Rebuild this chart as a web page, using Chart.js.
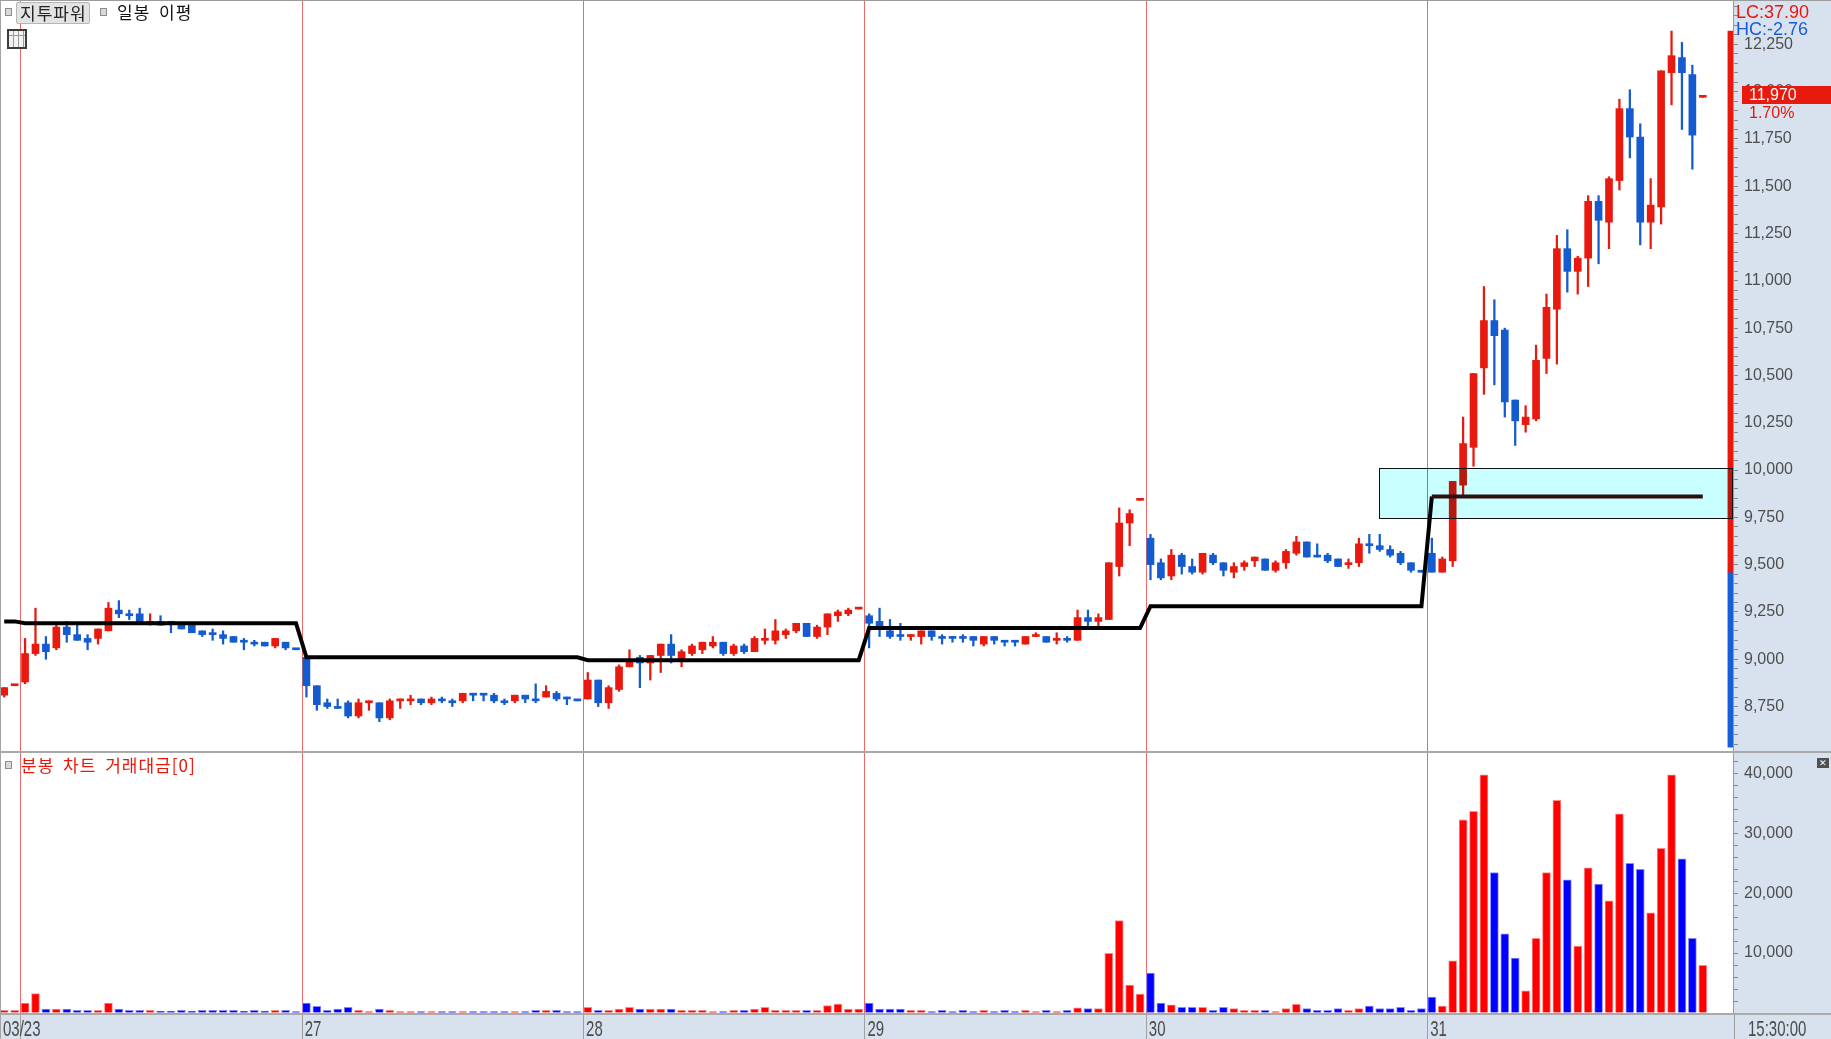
<!DOCTYPE html>
<html>
<head>
<meta charset="utf-8">
<script src="https://cdn.jsdelivr.net/npm/chart.js@4.4.1/dist/chart.umd.min.js"></script>
<style>
  body { margin: 0; width: 1831px; height: 1039px; overflow: hidden; position: relative; background: #fff; font-family: 'Liberation Sans', Arial, sans-serif; }
  canvas { position: absolute; left: 0; }
  .abs { position: absolute; white-space: nowrap; }
  .kr { font-family: 'Noto Sans CJK KR', sans-serif; font-size: 17px; letter-spacing: 1px; word-spacing: 4px; }
  .sq { position: absolute; width: 5px; height: 6px; border: 1px solid #8c8c8c; background: #d9d9d9; }
</style>
</head>
<body>
<canvas id="priceChart" width="1831" height="751" style="top:0"></canvas>
<canvas id="volChart" width="1831" height="286" style="top:753px"></canvas>

<div class="abs" style="left:0;top:0;width:1831px;height:1px;background:#9c9c9c"></div>
<div class="abs" style="left:0;top:0;width:1px;height:1039px;background:#a4a4a4"></div>
<div class="abs" style="left:0;top:751px;width:1831px;height:2px;background:#a9a9a9"></div>

<!-- 범례 -->
<div class="sq" style="left:5px;top:8px"></div>
<div class="abs kr" style="left:16px;top:2px;height:20px;line-height:20px;padding:0 2px 0 3px;background:#e3e3e3;border:1px solid #b6b6b6;border-radius:2px;color:#222">지투파워</div>
<div class="sq" style="left:100px;top:8px"></div>
<div class="abs kr" style="left:117px;top:1px;line-height:22px;color:#111">일봉 이평</div>
<div class="abs" style="left:7px;top:29px;width:16px;height:16px;border:2px solid #3c3c3c;background:#f2f2f2;
  background-image:linear-gradient(#9a9a9a,#9a9a9a),repeating-linear-gradient(90deg,transparent 0 4px,#9a9a9a 4px 5px);
  background-size:100% 1px,100% 100%;background-position:0 4px,0 0;background-repeat:no-repeat"></div>

<div class="sq" style="left:5px;top:761px"></div>
<div class="abs kr" style="left:21px;top:754px;line-height:22px;color:#e8170c">분봉 차트 거래대금[0]</div>
<div class="abs" style="left:1817px;top:758px;width:12px;height:10px;background:#505050;color:#fff;font-size:9px;line-height:10px;text-align:center">✕</div>

<!-- 오른쪽 축 정보 -->
<div class="abs" style="left:1736px;top:3px;font-size:18px;line-height:18px;color:#e8170c">LC:37.90</div>
<div class="abs" style="left:1736px;top:20px;font-size:18px;line-height:18px;color:#1a5bd6">HC:-2.76</div>
<div class="abs" style="left:1742px;top:86px;width:89px;height:18px;background:#e8190e"></div>
<div class="abs" style="left:1749px;top:85px;font-size:16px;line-height:19px;color:#fff">11,970</div>
<div class="abs" style="left:1749px;top:104px;font-size:16px;line-height:17px;color:#e8170c">1.70%</div>

<script>
// 15분봉, 직전일 2개 + 6일 x 27개
const dayLabels = ['03/23', '27', '28', '29', '30', '31'];
const dayStart = [2, 29, 56, 83, 110, 137];
const dayAvg = [9200, 9190, 9010, 8995, 9165, 9280, 9860]; // 일봉 이평 (직전일 포함)

const open = [
  8810, 8860,
  8880, 9030, 9080, 9060, 9170, 9130, 9110, 9110, 9150, 9260, 9240, 9240, 9190, 9200, 9200, 9190, 9180, 9150, 9140, 9130, 9120, 9100, 9090, 9090, 9070, 9090, 9050,
  9010, 8860, 8770, 8750, 8770, 8700, 8770, 8770, 8690, 8780, 8780, 8790, 8770, 8790, 8780, 8780, 8820, 8820, 8810, 8780, 8780, 8810, 8790, 8800, 8820, 8800, 8780,
  8790, 8890, 8770, 8840, 8960, 9010, 8980, 9020, 9080, 8990, 9030, 9050, 9070, 9090, 9030, 9070, 9040, 9100, 9100, 9130, 9150, 9190, 9120, 9170, 9230, 9240, 9265,
  9230, 9200, 9150, 9130, 9120, 9120, 9150, 9120, 9120, 9120, 9120, 9080, 9120, 9100, 9100, 9080, 9120, 9120, 9100, 9110, 9100, 9220, 9200, 9210, 9490, 9720, 9840,
  9640, 9510, 9440, 9550, 9490, 9460, 9550, 9510, 9460, 9490, 9520, 9530, 9470, 9510, 9560, 9620, 9550, 9550, 9530, 9500, 9510, 9610, 9600, 9580, 9560, 9510, 9460,
  9560, 9460, 9520, 9920, 10120, 10540, 10790, 10740, 10370, 10240, 10270, 10590, 10850, 11170, 11050, 11120, 11420, 11310, 11530, 11910, 11760, 11310, 11390, 12100, 12180, 12090, 11970
];
const high = [
  8850, 8860,
  9110, 9270, 9120, 9190, 9200, 9190, 9130, 9160, 9300, 9310, 9260, 9270, 9240, 9230, 9200, 9190, 9190, 9150, 9160, 9150, 9120, 9110, 9100, 9090, 9110, 9090, 9050,
  9010, 8860, 8790, 8790, 8780, 8790, 8780, 8770, 8790, 8790, 8810, 8790, 8800, 8800, 8790, 8820, 8820, 8820, 8820, 8790, 8810, 8810, 8870, 8860, 8830, 8800, 8780,
  8930, 8890, 8860, 8970, 9050, 9020, 9020, 9080, 9130, 9050, 9080, 9090, 9120, 9090, 9080, 9080, 9120, 9160, 9210, 9160, 9190, 9190, 9180, 9240, 9260, 9270, 9265,
  9240, 9270, 9210, 9190, 9130, 9150, 9150, 9130, 9120, 9130, 9120, 9120, 9120, 9100, 9100, 9120, 9140, 9120, 9140, 9120, 9260, 9260, 9240, 9510, 9800, 9790, 9840,
  9660, 9530, 9580, 9560, 9530, 9560, 9560, 9510, 9510, 9520, 9540, 9530, 9520, 9580, 9650, 9620, 9610, 9560, 9530, 9530, 9640, 9660, 9660, 9600, 9570, 9510, 9460,
  9640, 9540, 9940, 10280, 10510, 10970, 10900, 10750, 10370, 10340, 10660, 10930, 11240, 11270, 11130, 11450, 11450, 11550, 11960, 12010, 11830, 11540, 12110, 12320, 12260, 12140, 11970
];
const low = [
  8800, 8860,
  8870, 9020, 9000, 9050, 9090, 9100, 9050, 9080, 9150, 9220, 9210, 9190, 9180, 9180, 9140, 9160, 9140, 9120, 9100, 9080, 9090, 9050, 9070, 9070, 9060, 9050, 9050,
  8800, 8730, 8740, 8740, 8690, 8690, 8730, 8670, 8680, 8740, 8760, 8760, 8760, 8770, 8750, 8770, 8780, 8780, 8770, 8760, 8770, 8770, 8770, 8800, 8780, 8760, 8780,
  8790, 8750, 8740, 8830, 8960, 8850, 8890, 8930, 8980, 8960, 9020, 9030, 9060, 9020, 9020, 9030, 9040, 9080, 9080, 9110, 9140, 9120, 9110, 9130, 9200, 9230, 9265,
  9060, 9120, 9110, 9100, 9100, 9080, 9100, 9080, 9090, 9090, 9070, 9070, 9080, 9070, 9070, 9080, 9120, 9090, 9080, 9090, 9100, 9170, 9170, 9210, 9440, 9600, 9840,
  9420, 9420, 9420, 9450, 9450, 9450, 9500, 9440, 9430, 9470, 9490, 9470, 9460, 9480, 9550, 9540, 9540, 9510, 9490, 9480, 9490, 9560, 9570, 9540, 9500, 9460, 9460,
  9460, 9460, 9490, 9860, 10020, 10400, 10450, 10280, 10130, 10200, 10260, 10510, 10560, 10940, 10930, 10970, 11090, 11170, 11480, 11650, 11190, 11170, 11300, 11930, 11800, 11590, 11970
];
const close = [
  8850, 8860,
  9030, 9080, 9040, 9170, 9130, 9100, 9090, 9160, 9270, 9240, 9230, 9190, 9200, 9180, 9190, 9160, 9140, 9130, 9130, 9110, 9090, 9090, 9080, 9070, 9110, 9060, 9050,
  8860, 8760, 8750, 8740, 8700, 8770, 8780, 8690, 8780, 8790, 8790, 8770, 8790, 8780, 8770, 8820, 8810, 8810, 8780, 8770, 8810, 8790, 8780, 8830, 8790, 8790, 8780,
  8890, 8770, 8850, 8960, 9000, 8980, 9020, 9080, 9020, 9040, 9070, 9090, 9090, 9030, 9070, 9040, 9110, 9110, 9150, 9150, 9190, 9120, 9170, 9240, 9250, 9260, 9265,
  9190, 9160, 9120, 9120, 9130, 9150, 9120, 9110, 9110, 9110, 9100, 9120, 9100, 9090, 9090, 9120, 9130, 9090, 9110, 9100, 9220, 9200, 9220, 9510, 9720, 9770, 9840,
  9500, 9430, 9550, 9490, 9460, 9560, 9510, 9470, 9490, 9510, 9540, 9470, 9510, 9570, 9620, 9540, 9540, 9520, 9490, 9510, 9610, 9600, 9580, 9550, 9510, 9470, 9460,
  9460, 9530, 9940, 10140, 10510, 10790, 10710, 10360, 10260, 10280, 10580, 10860, 11170, 11050, 11120, 11420, 11320, 11540, 11910, 11760, 11310, 11400, 12110, 12190, 12100, 11770, 11970
];
// 거래대금 (백만원)
const volume = [
  440, 440,
  1660, 3220, 660, 660, 660, 440, 440, 440, 1660, 660, 440, 440, 440, 300, 300, 440, 300, 440, 440, 440, 440, 300, 440, 300, 440, 440, 220,
  1660, 1100, 440, 660, 940, 440, 220, 660, 440, 220, 220, 220, 220, 220, 220, 220, 220, 220, 220, 220, 220, 220, 440, 440, 440, 220, 220,
  940, 440, 440, 660, 940, 660, 660, 660, 660, 440, 440, 440, 220, 220, 440, 440, 660, 940, 440, 440, 440, 440, 440, 1220, 1490, 660, 660,
  1660, 660, 660, 660, 440, 440, 220, 440, 220, 440, 220, 440, 220, 440, 220, 440, 220, 440, 220, 440, 880, 720, 720, 9940, 15440, 4660, 3160,
  6660, 1660, 1380, 940, 940, 940, 440, 940, 720, 440, 440, 440, 220, 720, 1440, 720, 440, 440, 720, 440, 720, 1160, 720, 720, 940, 440, 720,
  2660, 1160, 8720, 32220, 33660, 39720, 23440, 13220, 9160, 3710, 12440, 23440, 35490, 22220, 11160, 24220, 21490, 18720, 33220, 24990, 23990, 16720, 27490, 39720, 25720, 12440, 7940
];
// 오른쪽 등락 게이지, 박스 구간
const gaugeLow = 8535, gaugeMid = 9460, gaugeHigh = 12320;
const zoneStart = 131.9, zoneTop = 10010, zoneBottom = 9748;
const volTicks = [0, 2000, 4000, 6000, 8000, 10000, 12000, 14000, 16000, 18000, 20000, 22000, 24000, 26000, 28000, 30000, 32000, 34000, 36000, 38000, 40000, 42000];

const RED = '#e8190e', BLUE = '#135bcf';
const AXIS_BG = '#d8e2ef';
const xMin = -0.31, xMax = 165.9;
const tickFont = { family: "'Liberation Sans', Arial, sans-serif", size: 16 };

const idx = open.map((_, i) => i);
const isUp = idx.map(i => close[i] > open[i] || (close[i] === open[i] && (i === 0 || close[i] >= close[i - 1])));
const candleColor = idx.map(i => isUp[i] ? RED : BLUE);
const ma = idx.map(i => dayAvg[dayStart.filter(s => s <= i).length]);
const gaugeX = open.length + 1.65;

// 축 폭 고정, 라벨 여백 제거
const fixAxis = s => { s.width = 98; s.paddingTop = 0; s.paddingBottom = 0; };

const priceDecor = {
  id: 'priceDecor',
  beforeDraw(chart) {
    const { ctx, chartArea: a, width, height } = chart;
    ctx.save();
    ctx.fillStyle = AXIS_BG;
    ctx.fillRect(a.right, 0, width - a.right, height);
    ctx.restore();
  },
  beforeDatasetsDraw(chart) {
    const { ctx, chartArea: a, scales: { x } } = chart;
    ctx.save();
    ctx.strokeStyle = '#ea6b6b';
    ctx.lineWidth = 1;
    dayStart.forEach(s => {
      const px = Math.round(x.getPixelForValue(s - 0.45)) + 0.5;
      ctx.beginPath(); ctx.moveTo(px, a.top); ctx.lineTo(px, a.bottom); ctx.stroke();
    });
    ctx.restore();
  },
  afterDatasetsDraw(chart) {
    const { ctx, chartArea: a, scales: { x, y } } = chart;
    const l = Math.round(x.getPixelForValue(zoneStart));
    const t = Math.round(y.getPixelForValue(zoneTop));
    const b = Math.round(y.getPixelForValue(zoneBottom));
    ctx.save();
    ctx.globalCompositeOperation = 'multiply';
    ctx.fillStyle = '#c9ffff';
    ctx.fillRect(l, t, a.right - l, b - t);
    ctx.globalCompositeOperation = 'source-over';
    ctx.strokeStyle = '#111';
    ctx.lineWidth = 1;
    ctx.strokeRect(l + 0.5, t + 0.5, a.right - l - 1, b - t);
    ctx.restore();
  }
};

new Chart(document.getElementById('priceChart'), {
  type: 'bar',
  data: {
    datasets: [
      {
        type: 'line', label: '일봉 이평', order: 0,
        data: idx.map(i => ({ x: i, y: ma[i] })),
        borderColor: '#000', borderWidth: 4, pointRadius: 0, tension: 0,
        segment: { borderColor: c => c.p0DataIndex >= dayStart[5] ? '#3a0e0e' : '#000' }
      },
      {
        label: 'body', order: 1, grouped: false,
        data: idx.map(i => ({ x: i, y: [open[i], close[i]] })),
        backgroundColor: candleColor, barThickness: 7, minBarLength: 2
      },
      {
        label: 'wick', order: 2, grouped: false,
        data: idx.map(i => ({ x: i, y: [low[i], high[i]] })),
        backgroundColor: candleColor, barThickness: 1.6
      },
      {
        label: 'gauge', order: 3, grouped: false,
        data: [{ x: gaugeX, y: [gaugeLow, gaugeMid] }, { x: gaugeX, y: [gaugeMid, gaugeHigh] }],
        backgroundColor: ['#1560d8', '#e8170c'], barThickness: 5
      }
    ]
  },
  options: {
    responsive: false, animation: false, devicePixelRatio: 1,
    layout: { padding: { left: 1, top: 1, right: 0, bottom: 0 } },
    plugins: { legend: { display: false }, tooltip: { enabled: false } },
    scales: {
      x: { type: 'linear', min: xMin, max: xMax, offset: false, display: false },
      y: {
        position: 'right', min: 8515, max: 12479,
        afterFit: fixAxis,
        border: { color: '#9a9a9a' },
        grid: { drawOnChartArea: false, tickLength: 5, tickColor: '#8a8a8a' },
        ticks: {
          stepSize: 50, autoSkip: false, includeBounds: false, padding: 6,
          color: '#4e4e4e', font: tickFont,
          callback: v => v % 250 === 0 ? v.toLocaleString('en-US') : ''
        }
      }
    }
  },
  plugins: [priceDecor]
});

const volDecor = {
  id: 'volDecor',
  beforeDraw(chart) {
    const { ctx, chartArea: a, width, height } = chart;
    ctx.save();
    ctx.fillStyle = AXIS_BG;
    ctx.fillRect(a.right, 0, width - a.right, height);
    ctx.fillRect(0, a.bottom, width, height - a.bottom);
    ctx.restore();
  },
  beforeDatasetsDraw(chart) {
    const { ctx, chartArea: a, scales: { x } } = chart;
    ctx.save();
    ctx.strokeStyle = '#ea6b6b';
    ctx.lineWidth = 1;
    dayStart.forEach(s => {
      const px = Math.round(x.getPixelForValue(s - 0.45)) + 0.5;
      ctx.beginPath(); ctx.moveTo(px, a.top); ctx.lineTo(px, a.bottom); ctx.stroke();
    });
    ctx.restore();
  },
  afterDraw(chart) {
    const { ctx, chartArea: a, scales: { x }, width, height } = chart;
    ctx.save();
    ctx.fillStyle = '#a9a9a9';
    ctx.fillRect(0, a.bottom, width, 2);
    ctx.strokeStyle = '#a0a0a0';
    ctx.lineWidth = 1;
    const lines = dayStart.map(s => Math.round(x.getPixelForValue(s - 0.45)) + 0.5).concat([Math.round(a.right) + 1.5]);
    lines.forEach(px => {
      ctx.beginPath(); ctx.moveTo(px, a.bottom + 2); ctx.lineTo(px, height); ctx.stroke();
    });
    // 날짜 라벨
    ctx.fillStyle = '#4a4a4a';
    ctx.font = "15px 'Liberation Sans', Arial, sans-serif";
    const baseY = a.bottom + 23;
    const drawTall = (t, px) => {
      ctx.save(); ctx.translate(px, baseY); ctx.scale(1, 1.45); ctx.fillText(t, 0, 0); ctx.restore();
    };
    dayLabels.forEach((t, k) => {
      drawTall(t, k === 0 ? a.left + 2 : x.getPixelForValue(dayStart[k] - 0.45) + 3);
    });
    drawTall('15:30:00', a.right + 15);
    ctx.restore();
  }
};

new Chart(document.getElementById('volChart'), {
  type: 'bar',
  data: {
    datasets: [{
      label: '거래대금', grouped: false,
      data: idx.map(i => ({ x: i, y: volume[i] })),
      backgroundColor: idx.map(i => isUp[i] ? '#ff0000' : '#0000ff'),
      borderColor: idx.map(i => isUp[i] ? '#ff8a8a' : '#8a8aff'),
      borderWidth: 1, barThickness: 8
    }]
  },
  options: {
    responsive: false, animation: false, devicePixelRatio: 1,
    layout: { padding: { left: 1, top: 0, right: 0, bottom: 26 } },
    plugins: { legend: { display: false }, tooltip: { enabled: false } },
    scales: {
      x: { type: 'linear', min: xMin, max: xMax, offset: false, display: false },
      y: {
        position: 'right', min: 0, max: 43380,
        afterFit: fixAxis,
        afterBuildTicks: s => { s.ticks = volTicks.map(v => ({ value: v })); },
        border: { color: '#9a9a9a' },
        grid: { drawOnChartArea: false, tickLength: 5, tickColor: '#8a8a8a' },
        ticks: {
          autoSkip: false, padding: 6,
          color: '#4e4e4e', font: tickFont,
          callback: v => (v > 0 && v % 10000 === 0) ? v.toLocaleString('en-US') : ''
        }
      }
    }
  },
  plugins: [volDecor]
});
</script>
</body>
</html>
